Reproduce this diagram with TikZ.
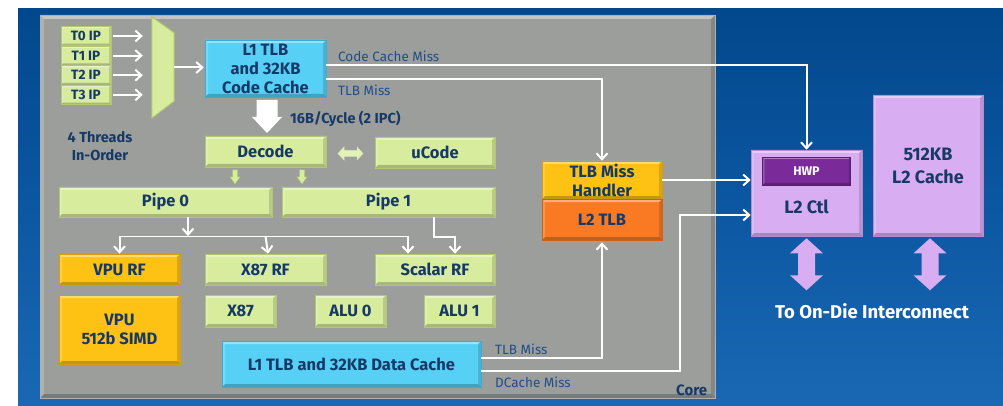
\documentclass[tikz,border=0pt]{standalone}
\usepackage{fontspec}
\setmainfont{Fira Sans}
\usepackage{tikz}
\usetikzlibrary{arrows.meta,calc}
\definecolor{bgtop}{HTML}{02488C}
\definecolor{bgmid}{HTML}{0C57A2}
\definecolor{bgbottom}{HTML}{1A68B4}
\definecolor{coregrey}{HTML}{9B9E9B}
\definecolor{coreedge}{HTML}{AEB0AD}
\definecolor{pipegreen}{HTML}{D8EC9D}
\definecolor{pipegreenedge}{HTML}{B3C671}
\definecolor{cachecyan}{HTML}{57D0F6}
\definecolor{cachecyanedge}{HTML}{36ADD9}
\definecolor{rfgold}{HTML}{FDC214}
\definecolor{rfgoldedge}{HTML}{DA9C0A}
\definecolor{tlborange}{HTML}{FA7A24}
\definecolor{tlborangeedge}{HTML}{D45E14}
\definecolor{l2lilac}{HTML}{D8ADF1}
\definecolor{l2lilacedge}{HTML}{B68CD5}
\definecolor{hwppurple}{HTML}{7B2B99}
\definecolor{labelnavy}{HTML}{173968}
\definecolor{missblue}{HTML}{1F4E8A}

\begin{document}
\begin{tikzpicture}[x=1pt, y=-1pt,
    bevel/.style={path picture={
        \fill[white, opacity=0.4] (path picture bounding box.north west) -- (path picture bounding box.north east)
            -- ([xshift=-#1,yshift=-#1]path picture bounding box.north east) -- ([xshift=#1,yshift=-#1]path picture bounding box.north west) -- cycle;
        \fill[white, opacity=0.2] (path picture bounding box.north west) -- ([xshift=#1,yshift=-#1]path picture bounding box.north west)
            -- ([xshift=#1,yshift=#1]path picture bounding box.south west) -- (path picture bounding box.south west) -- cycle;
        \fill[black, opacity=0.22] (path picture bounding box.south west) -- (path picture bounding box.south east)
            -- ([xshift=-#1,yshift=#1]path picture bounding box.south east) -- ([xshift=#1,yshift=#1]path picture bounding box.south west) -- cycle;
        \fill[black, opacity=0.14] (path picture bounding box.north east) -- (path picture bounding box.south east)
            -- ([xshift=-#1,yshift=#1]path picture bounding box.south east) -- ([xshift=-#1,yshift=-#1]path picture bounding box.north east) -- cycle;
    }},
    bevel/.default=3pt,
    boxtext/.style={bevel, text=labelnavy, font=\fontsize{16.5}{19}\selectfont\bfseries, align=center, inner sep=0pt, line width=0.6pt},
    greenbox/.style={boxtext, fill=pipegreen, draw=pipegreenedge},
    cyanbox/.style={boxtext, fill=cachecyan, draw=cachecyanedge},
    goldbox/.style={boxtext, fill=rfgold, draw=rfgoldedge},
    orangebox/.style={boxtext, fill=tlborange, draw=tlborangeedge},
    lilacbox/.style={boxtext, fill=l2lilac, draw=l2lilacedge, font=\fontsize{18}{23}\selectfont\bfseries},
    wire/.style={white, line width=2pt},
    flow/.style={wire, -{Straight Barb[length=6pt,width=11pt]}},
    missnote/.style={anchor=base west, inner sep=0pt, text=missblue, font=\fontsize{13.5}{15}\selectfont},
  ]
    \useasboundingbox (0,0) rectangle (1003,406);
    \fill[white] (0,0) rectangle (1003,406);
    \shade[top color=bgtop, bottom color=bgbottom, middle color=bgmid] (18,9) rectangle (1003,406);

    % Core
    \draw[fill=coregrey, draw=coreedge, line width=0.8pt, bevel=4pt] (40,15) rectangle (715,398);
    \node[anchor=base west, inner sep=0pt, text=labelnavy, font=\fontsize{15}{17}\selectfont\bfseries] (corelabel) at (676,395) {Core};

    % Thread IPs and selector
    \foreach \t in {0,...,3} {
        \node[greenbox, bevel=2pt, font=\fontsize{13.5}{15}\selectfont\bfseries, minimum width=50pt, minimum height=19.5pt] (ip\t) at (86,36+19.6*\t) {T\t{} IP};
    }
    \node[inner sep=0pt, minimum width=22pt, minimum height=101pt] (mux) at (163,67.5) {};
    \draw[fill=pipegreen, draw=pipegreenedge, line width=1pt] (mux.north west) -- ([yshift=-16pt]mux.north east)
        -- ([yshift=17pt]mux.south east) -- (mux.south west) -- cycle;
    \foreach \t in {0,...,3} {
        \draw[flow, shorten <=2pt, shorten >=9pt] (ip\t.east) -- (ip\t.east -| mux.west);
    }
    \node[text=labelnavy, font=\fontsize{14.5}{18}\selectfont\bfseries, align=center] (threads) at (100,146) {4 Threads\\In-Order};

    % Front end
    \node[cyanbox, minimum width=121pt, minimum height=57pt] (l1code) at (265.5,68.5) {L1 TLB\\and 32KB\\Code Cache};
    \draw[flow, shorten >=1pt] (mux.east) -- (mux.east -| l1code.west);
    \node[greenbox, minimum width=121pt, minimum height=31pt] (decode) at (265.5,151.5) {Decode};
    \node[greenbox, minimum width=120pt, minimum height=31pt] (ucode) at (435,152.5) {uCode};
    % fetch block arrow
    \coordinate (fetch) at ($(l1code.south)!0.5!(decode.north)+(1.5,0)$);
    \fill[white] ($(fetch)+(-10.5,-16.5)$) -- ++(21,0) -- ++(0,17) -- ++(4.5,0) -- ++(-15,16)
        -- ++(-15,-16) -- ++(4.5,0) -- cycle;
    \node[anchor=base west, inner sep=0pt, text=labelnavy, font=\fontsize{14.5}{16}\selectfont\bfseries] (fetchrate) at (290,124) {16B/Cycle (2 IPC)};
    % decode <-> ucode
    \coordinate (ucodelink) at ($(decode.east)!0.5!(ucode.west)+(0,1.5)$);
    \draw[fill=pipegreen!75!white, draw=pipegreenedge!50!white, line width=0.5pt] ($(ucodelink)+(-12.5,0)$)
        -- ++(6,-6.5) -- ++(0,3.5) -- ++(13,0) -- ++(0,-3.5) -- ++(6,6.5) -- ++(-6,6.5) -- ++(0,-3.5)
        -- ++(-13,0) -- ++(0,3.5) -- cycle;

    % Pipes
    \node[greenbox, minimum width=213pt, minimum height=30pt] (pipe0) at (165.5,202) {Pipe 0};
    \node[greenbox, minimum width=213pt, minimum height=30pt] (pipe1) at (388.5,202) {Pipe 1};
    \foreach \x/\name in {235/issue0, 302/issue1} {
        \coordinate (\name) at (\x,177);
        \draw[fill=pipegreen, draw=pipegreenedge, line width=0.5pt] ($(\name)+(-2.5,-7)$) -- ++(5,0) -- ++(0,7)
            -- ++(2.5,0) -- ++(-5,7) -- ++(-5,-7) -- ++(2.5,0) -- cycle;
    }

    % Register files and units
    \node[goldbox, minimum width=121pt, minimum height=31pt] (vpurf) at (119.5,269.5) {VPU RF};
    \node[greenbox, minimum width=121pt, minimum height=31pt] (x87rf) at (265.5,269.5) {X87 RF};
    \node[greenbox, minimum width=120pt, minimum height=31pt] (scalarrf) at (435,269.5) {Scalar RF};
    \node[goldbox, minimum width=121pt, minimum height=69pt] (vpu) at (119.5,329.5) {VPU\\512b SIMD};
    \node[greenbox, minimum width=71pt, minimum height=32pt] (x87) at (240.5,311) {X87};
    \node[greenbox, minimum width=71pt, minimum height=32pt] (alu0) at (350.5,311) {ALU 0};
    \node[greenbox, minimum width=71pt, minimum height=32pt] (alu1) at (459.5,311) {ALU 1};
    \node[cyanbox, minimum width=259pt, minimum height=46pt] (dcache) at (351.5,364) {L1 TLB and 32KB Data Cache};

    % Pipe to register files
    \coordinate (fan) at (188,236);
    \coordinate (sfan) at ([xshift=-27pt]scalarrf.north);
    \draw[white, line width=1pt] (vpurf.north |- fan) -- (sfan |- fan);
    \draw[flow] ([xshift=22.5pt]pipe0.south) -- (fan);
    \draw[flow] (vpurf.north |- fan) -- (vpurf.north);
    \draw[flow] (x87rf.north |- fan) -- ([xshift=2.5pt]x87rf.north);
    \draw[flow] (sfan |- fan) -- (sfan);
    \draw[flow] ([xshift=45.5pt]pipe1.south) -- ++(0,20) -| ([xshift=20pt]scalarrf.north);

    % TLB miss handling
    \node[goldbox, minimum width=120pt, minimum height=38pt] (tlbh) at (602,180) {TLB Miss\\Handler};
    \node[orangebox, minimum width=120pt, minimum height=41pt] (l2tlb) at (602,219.5) {L2 TLB};

    % L2
    \node[lilacbox, minimum width=111pt, minimum height=86pt] (l2ctl) at (806.5,193) {};
    \node[bevel=2pt, fill=hwppurple, draw=hwppurple!70!black, line width=0.6pt, text=white, font=\fontsize{12.5}{14}\selectfont\bfseries,
        minimum width=88pt, minimum height=28pt, inner sep=0pt, anchor=north] (hwp) at ([yshift=-7pt]l2ctl.north) {HWP};
    \node[text=labelnavy, inner sep=0pt, font=\fontsize{18}{23}\selectfont\bfseries] (l2ctltext) at ([yshift=-14pt]l2ctl.center) {L2 Ctl};
    \node[lilacbox, minimum width=110pt, minimum height=141pt] (l2cache) at (928,165.5) {512KB\\L2 Cache};
    % ports to the interconnect
    \coordinate (ctlport) at ($(l2ctl.south)+(0,28)$);
    \coordinate (cacheport) at ($(l2cache.south)+(2,28)$);
    \foreach \port in {ctlport, cacheport} {
        \fill[l2lilac] ($(\port)+(0,-26)$) -- ++(16.5,15) -- ++(-8,0) -- ++(0,22) -- ++(8,0) -- ++(-16.5,15)
            -- ++(-16.5,-15) -- ++(8,0) -- ++(0,-22) -- ++(-8,0) -- cycle;
    }
    \node[anchor=base, text=white, font=\fontsize{18.5}{21}\selectfont\bfseries] (interconnect) at (872,318) {To On-Die Interconnect};

    % Miss paths
    \draw[flow] ([yshift=3.5pt]l1code.east) -| (l2ctl.north);
    \draw[flow] ([yshift=-10.5pt]l1code.east) -| (tlbh.north);
    \node[missnote] (codemiss) at (338,62) {Code Cache Miss};
    \node[missnote] (itlbmiss) at (338,96) {TLB Miss};
    \draw[flow] (tlbh.east) -- (tlbh.east -| l2ctl.west);
    \draw[flow, shorten >=2pt] ([yshift=6pt]dcache.east) -| (l2tlb.south);
    \coordinate (dmiss) at ([yshift=-7pt]dcache.east);
    \coordinate (dctl) at ([yshift=-22pt]l2ctl.west);
    \coordinate (dturn) at (680,300);
    \draw[flow] (dmiss) -- (dmiss -| dturn) -- (dturn |- dctl) -- (dctl);
    \node[missnote] (dtlbmiss) at (495,354) {TLB Miss};
    \node[missnote] (dcachemiss) at (495,387) {DCache Miss};
\end{tikzpicture}
\end{document}
